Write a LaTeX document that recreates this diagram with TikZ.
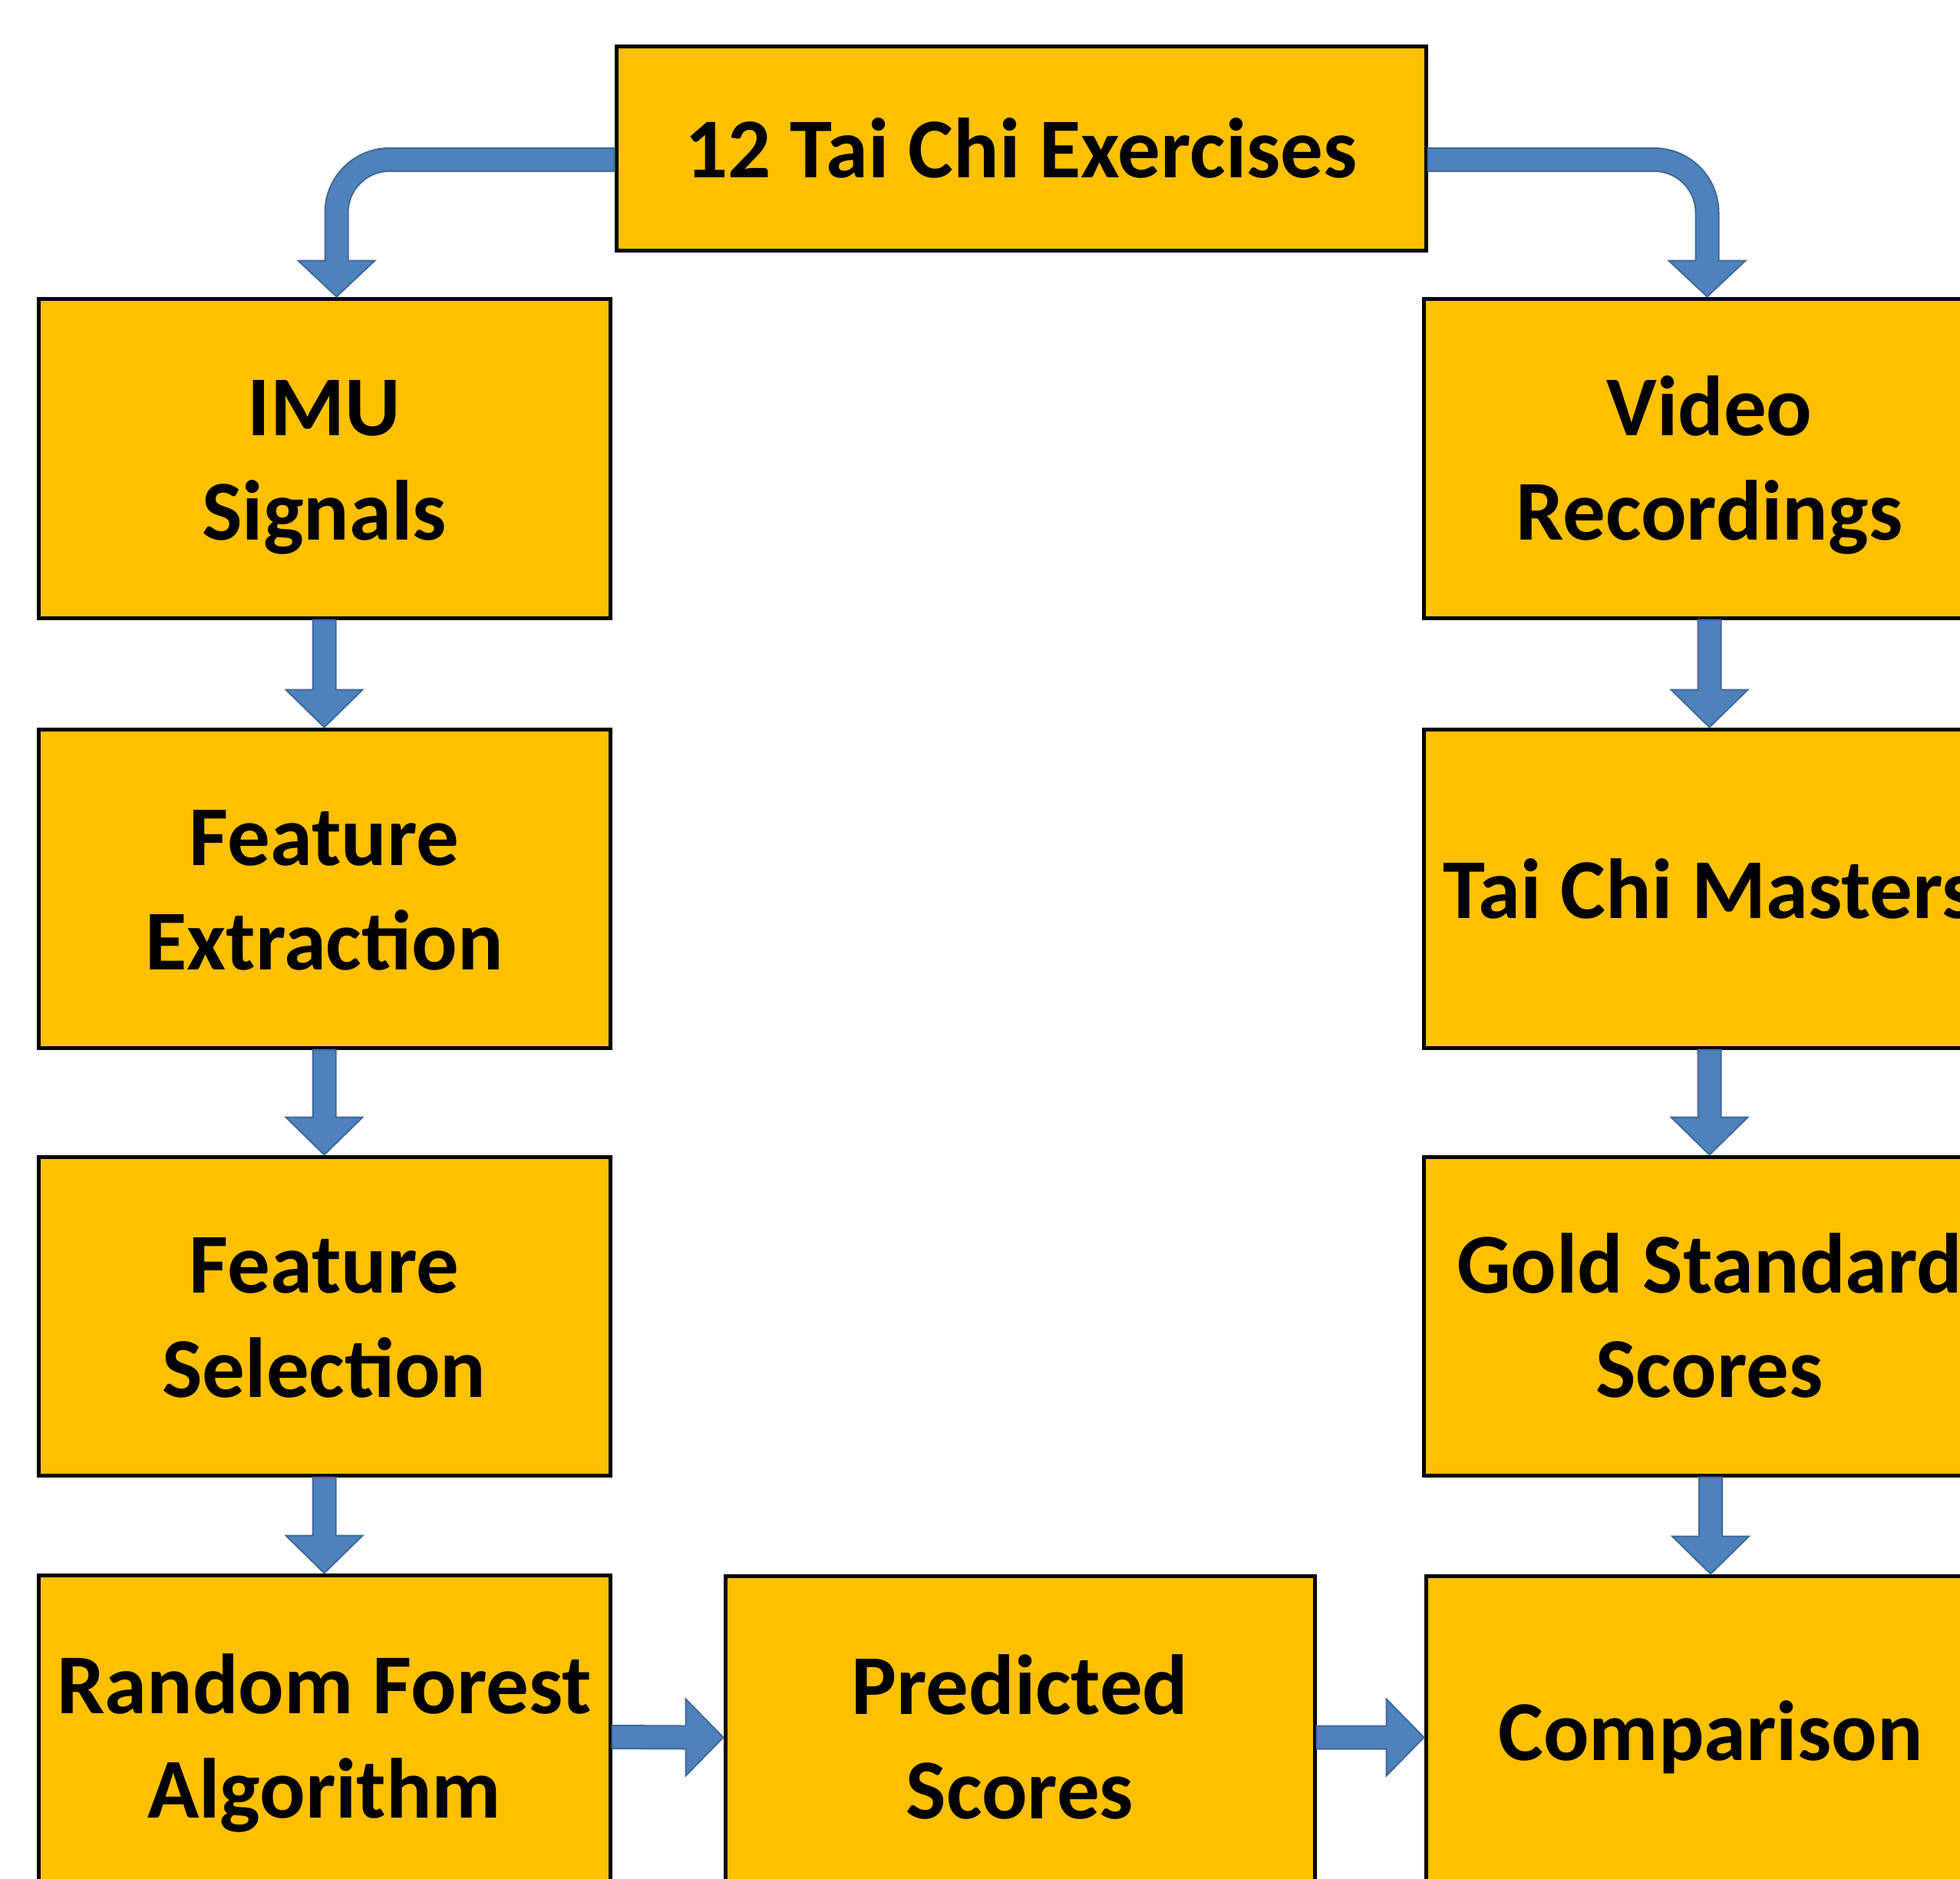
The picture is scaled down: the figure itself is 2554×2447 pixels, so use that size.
\documentclass[tikz,border=0pt]{standalone}
\usepackage{fontspec}
\setmainfont{Carlito}
\usetikzlibrary{calc}
\definecolor{boxfill}{HTML}{FFC000}
\definecolor{arrfill}{HTML}{4F81BD}
\definecolor{arrline}{HTML}{41699A}
\tikzset{
  stagebox/.style={draw=black, line width=5pt, fill=boxfill, inner sep=0pt, align=center,
    font=\fontsize{111}{136}\selectfont\bfseries},
  colbox/.style={stagebox, minimum width=745pt, minimum height=416pt},
  blockarrow/.style={fill=arrfill, draw=arrline, line width=2pt, line join=miter}
}
\newcommand{\twolines}[3]{\raisebox{-#1pt}[\height][\depth]{\begin{tabular}{@{}c@{}}#2\\#3\end{tabular}}}
\newcommand{\blockdown}[2]{%
  \filldraw[blockarrow] ($(#1.south -| #2.north)+(-15,0)$) -- ($(#2.north)+(-15,-49)$) -- ($(#2.north)+(-50,-49)$) -- (#2.north)
    -- ($(#2.north)+(50,-49)$) -- ($(#2.north)+(15,-49)$) -- ($(#1.south -| #2.north)+(15,0)$) -- cycle;}
\newcommand{\blockright}[2]{%
  \filldraw[blockarrow] ($(#1.east)+(0,-15)$) -- ($(#2.west)+(-49,-15)$) -- ($(#2.west)+(-49,-50)$) -- (#2.west)
    -- ($(#2.west)+(-49,50)$) -- ($(#2.west)+(-49,15)$) -- ($(#1.east)+(0,15)$) -- cycle;}
\begin{document}
\begin{tikzpicture}[x=1pt, y=-1pt]
\useasboundingbox (0,0) rectangle (2554,2447);
\clip (0,0) rectangle (2554,2447);
% boxes
\node[stagebox, minimum width=1055pt, minimum height=266pt] (top) at (1330.5,193) {12 Tai Chi Exercises};
\node[colbox] (imu) at (422.5,597) {\twolines{11}{IMU}{Signals}};
\node[colbox] (video) at (2227.5,597) {\twolines{11}{Video}{Recordings}};
\node[colbox, minimum height=415pt] (fe) at (422.5,1157.5) {\twolines{11}{Feature}{Extraction}};
\node[colbox, minimum height=415pt] (tcm) at (2227.5,1157.5) {Tai Chi Masters};
\node[colbox, minimum height=415pt] (fs) at (422.5,1714.5) {\twolines{11}{Feature}{Selection}};
\node[colbox, minimum height=415pt] (gs) at (2227.5,1714.5) {\twolines{11}{Gold Standard}{Scores}};
\node[colbox, minimum height=422pt] (rf) at (422.5,2263) {\twolines{10}{Random Forest}{Algorithm}};
\node[stagebox, minimum width=768pt, minimum height=421pt] (ps) at (1329,2263.5) {\twolines{11}{Predicted}{Scores}};
\node[colbox, minimum width=742pt, minimum height=421pt] (cmp) at (2229,2263.5) {Comparison};
% vertical arrows
\blockdown{imu}{fe}
\blockdown{fe}{fs}
\blockdown{fs}{rf}
\blockdown{video}{tcm}
\blockdown{tcm}{gs}
\blockdown{gs}{cmp}
% horizontal arrows
\blockright{rf}{ps}
\blockright{ps}{cmp}
% curved arrows from the top box
\coordinate (ls) at ($(top.west)+(0,15)$);
\coordinate (lt) at ($(imu.north)+(16,0)$);
\coordinate (lc) at (lt |- ls);
\filldraw[blockarrow] ($(ls)+(0,-15)$) -- ($(lc)+(69,-15)$)
  .. controls ($(lc)+(22.6,-15)$) and ($(lc)+(-15,22.6)$) .. ($(lc)+(-15,69)$)
  -- ($(lt)+(-15,-47)$) -- ($(lt)+(-50,-47)$) -- (lt) -- ($(lt)+(50,-47)$) -- ($(lt)+(15,-47)$)
  -- ($(lc)+(15,69)$)
  .. controls ($(lc)+(15,39.2)$) and ($(lc)+(39.2,15)$) .. ($(lc)+(69,15)$)
  -- ($(ls)+(0,15)$) -- cycle;
\coordinate (rs) at ($(top.east)+(0,15)$);
\coordinate (rt) at ($(video.north)+(-3,0)$);
\coordinate (rc) at (rt |- rs);
\filldraw[blockarrow] ($(rs)+(0,-15)$) -- ($(rc)+(-69,-15)$)
  .. controls ($(rc)+(-22.6,-15)$) and ($(rc)+(15,22.6)$) .. ($(rc)+(15,69)$)
  -- ($(rt)+(15,-47)$) -- ($(rt)+(50,-47)$) -- (rt) -- ($(rt)+(-50,-47)$) -- ($(rt)+(-15,-47)$)
  -- ($(rc)+(-15,69)$)
  .. controls ($(rc)+(-15,39.2)$) and ($(rc)+(-39.2,15)$) .. ($(rc)+(-69,15)$)
  -- ($(rs)+(0,15)$) -- cycle;
\end{tikzpicture}
\end{document}
